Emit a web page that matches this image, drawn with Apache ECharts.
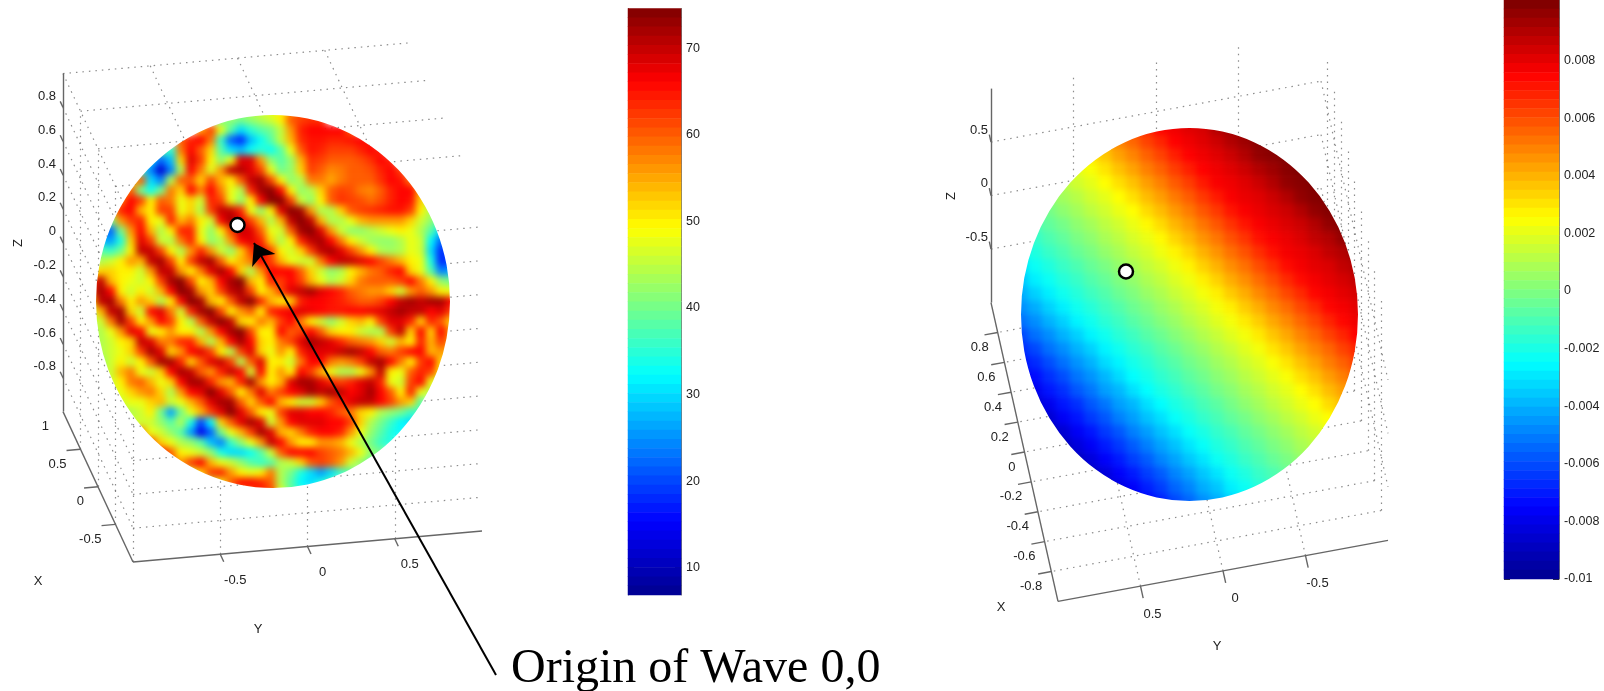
<!DOCTYPE html>
<html><head><meta charset="utf-8">
<style>html,body{margin:0;padding:0;background:#fff;overflow:hidden}#c{width:1604px;height:691px}</style>
<script src="https://cdn.jsdelivr.net/npm/echarts@6/dist/echarts.min.js"></script></head>
<body><div id="c"></div>
<script>
// Tick labels
const leftZTicks=[0.8,0.6,0.4,0.2,0,-0.2,-0.4,-0.6,-0.8];
const leftXTicks=[1,0.5,0,-0.5];
const leftYTicks=[-0.5,0,0.5];
const rightZTicks=[0.5,0,-0.5];
const rightXTicks=[0.8,0.6,0.4,0.2,0,-0.2,-0.4,-0.6,-0.8];
const rightYTicks=[0.5,0,-0.5];
const leftBarTicks=[10,20,30,40,50,60,70];
const rightBarTicks=[0.008,0.006,0.004,0.002,0,-0.002,-0.004,-0.006,-0.008,-0.01];
const leftRange=[6.85,74.57];
const rightRange=[-0.01,0.0101];
const annotationText='Origin of Wave 0,0';

// Left sphere: values, row by row; each row begins at column leftRowStart[j]
const leftRowStart=[15,13,11,9,7,6,5,4,3,3,2,2,1,1,1,1,0,0,0,0,0,0,0,0,1,1,1,2,2,3,3,4,5,6,7,8,10,12,15];
const leftRows=[
[42,44,46,48,50,56,60,62],
[40,42,40,42,44,46,50,60,62,63,63],
[55,62,48,38,30,35,38,40,45,56,64,66,66,66,66,60],
[60,64,66,58,36,22,18,28,33,38,45,54,63,65,65,64,64,65,66,64],
[40,35,58,66,60,52,38,30,28,33,35,33,38,48,60,65,64,62,62,62,64,66,64],
[30,22,28,52,68,62,50,42,48,68,68,56,42,38,42,54,63,62,60,60,60,61,63,66,64],
[35,24,12,24,44,66,58,47,56,70,71,68,62,48,40,42,52,62,60,57,58,60,60,61,64,66,62],
[52,60,30,24,44,60,60,52,62,54,50,60,70,72,62,50,42,44,58,58,55,58,60,60,60,63,66,65,58],
[52,60,40,33,40,58,52,66,58,66,58,48,44,64,72,74,66,50,42,44,52,60,62,61,58,57,60,64,66,66,54],
[58,66,62,50,60,58,48,52,46,64,62,48,42,50,66,74,74,62,46,42,50,60,63,62,61,59,61,64,66,65,52,44],
[52,64,66,54,50,62,62,48,52,44,62,70,70,64,48,42,50,68,74,72,56,44,44,52,60,62,63,64,65,65,62,50,44],
[40,56,62,64,50,48,64,54,58,50,46,66,72,68,62,54,44,54,70,74,70,54,44,44,48,54,56,56,56,56,52,46,42,36],
[24,22,40,56,66,54,44,50,64,64,48,42,50,62,70,68,60,48,46,60,72,74,68,56,46,42,42,44,46,48,50,48,44,38,30],
[28,26,34,52,68,62,46,44,58,64,50,42,44,56,66,68,64,52,44,50,64,70,72,66,58,50,46,43,42,42,44,48,46,32,22,24],
[38,36,40,50,70,70,62,50,44,56,64,56,46,42,52,62,68,62,50,46,52,62,70,72,68,62,56,50,44,43,44,48,46,30,18,22],
[44,46,50,56,54,70,72,62,50,62,70,72,60,50,54,58,66,62,54,48,46,46,58,66,70,70,68,66,62,58,54,50,48,34,18,20],
[50,52,52,50,50,46,56,70,70,56,50,58,68,72,66,52,44,56,66,66,66,60,52,46,42,44,50,54,58,60,64,66,52,48,38,24,26],
[62,70,54,50,48,46,50,62,72,74,62,50,54,66,72,74,54,50,64,62,66,62,54,48,44,46,52,58,60,60,60,62,66,58,50,42,40],
[62,72,66,50,46,50,46,54,66,74,72,56,52,62,70,72,62,50,54,62,68,70,72,68,66,64,60,58,56,56,52,46,56,60,56,50,48],
[50,70,72,58,50,56,52,44,50,66,74,72,54,50,60,70,74,64,54,50,52,64,66,66,65,64,62,60,60,62,66,70,72,70,72,72,66],
[46,54,70,72,52,46,66,68,58,46,64,72,74,62,50,56,60,50,64,66,67,68,67,66,65,65,66,66,67,68,70,72,70,70,66,68,62],
[44,46,58,72,62,50,56,66,62,50,44,60,70,74,70,52,50,58,54,62,66,58,50,46,42,46,52,54,50,62,68,68,64,52,64,60,52],
[44,44,48,56,68,66,48,50,56,50,50,44,56,66,72,74,62,50,50,66,60,62,66,60,52,50,50,46,44,44,62,70,52,66,52,66,56],
[44,44,46,50,52,70,68,58,58,64,64,54,44,54,66,72,66,52,50,58,62,68,72,70,68,64,60,58,56,52,46,54,50,64,54,62,56],
[44,46,48,52,62,72,68,52,56,66,68,62,50,44,62,68,52,48,56,50,64,68,68,68,70,72,70,66,60,58,62,66,66,54,56,54],
[42,46,50,46,50,60,72,72,64,52,60,68,70,62,44,60,68,50,50,46,58,66,66,58,56,58,62,70,72,66,58,50,62,66,52],
[44,46,54,58,48,46,52,66,72,70,60,56,64,70,66,46,66,50,56,50,66,62,54,48,44,44,48,56,70,50,48,60,64,62,50],
[46,50,58,60,54,48,52,66,72,72,64,56,54,64,72,56,50,54,68,72,72,68,64,62,64,68,70,64,48,46,62,66,48,44],
[46,48,52,56,58,52,44,56,66,68,74,68,60,50,58,68,58,62,66,68,72,70,72,70,66,68,72,66,60,50,64,48,44],
[46,48,48,52,54,46,48,54,60,68,72,72,60,52,60,66,54,50,46,46,52,60,64,68,70,70,66,62,56,52,38],
[44,44,46,50,40,26,40,48,54,62,68,74,68,60,50,48,62,68,68,66,66,64,60,58,52,50,44,42,40,36,36],
[46,46,46,42,38,44,34,20,32,52,60,68,72,68,46,56,66,68,68,68,66,66,62,52,44,40,36,32,30],
[58,48,46,42,38,26,14,22,40,48,54,62,72,68,54,52,58,64,66,66,64,56,48,42,38,34,32],
[62,52,48,44,42,38,28,24,36,42,48,56,70,66,56,50,50,56,56,54,48,44,40,36,34],
[66,60,50,48,46,42,34,30,30,33,38,46,60,66,66,66,62,60,58,54,48,42,40],
[60,56,62,66,54,48,46,42,38,36,38,44,46,52,60,62,60,56,46,42,38],
[46,52,62,64,56,50,48,50,58,44,40,34,30,26,30,36,38],
[44,48,60,66,66,64,60,44,38,32,30,34,38],
[54,58,64,62,48,40,36]
];

// Right sphere: values, in units of 0.0001
const rightRows=[
[14,19,23,29,36,42,49,55,62,68,75,78,81,83,90,94,98,100,100,100,100,100,100,100,100],
[10,15,19,24,29,36,42,49,55,62,68,75,78,81,85,90,94,98,100,100,100,100,100,100,100],
[6,10,15,19,24,30,36,43,49,56,62,69,75,78,81,85,90,96,98,100,100,100,100,100,100],
[2,6,11,15,20,24,30,37,43,50,56,63,69,75,78,81,85,90,94,98,100,100,100,100,100],
[-2,2,7,11,16,20,25,31,37,44,50,57,63,70,76,78,81,85,90,96,98,100,100,100,100],
[-7,-2,2,7,11,16,20,25,31,38,44,51,57,64,70,76,79,81,85,90,96,99,100,100,100],
[-11,-6,-2,3,7,12,16,21,25,32,38,45,51,58,64,71,76,79,82,85,90,96,99,100,100],
[-15,-11,-6,-2,3,7,12,16,21,26,32,39,45,52,58,65,71,76,79,82,85,90,96,99,100],
[-19,-15,-10,-6,-1,3,8,12,17,21,26,33,39,46,52,59,65,72,76,79,82,87,90,96,99],
[-23,-19,-14,-10,-5,-1,4,8,13,17,22,27,33,40,46,53,59,66,72,77,79,82,87,90,97],
[-30,-23,-19,-14,-10,-5,-1,4,8,13,17,22,27,34,40,47,53,60,66,73,77,80,82,87,90],
[-36,-28,-23,-18,-14,-9,-5,0,4,9,13,18,22,28,34,41,47,54,60,67,73,77,80,83,87],
[-41,-34,-28,-22,-18,-13,-9,-4,0,5,9,14,18,23,28,35,41,48,54,61,67,74,77,80,83],
[-47,-41,-34,-28,-22,-18,-13,-9,-4,0,5,9,14,18,23,28,35,41,48,54,61,67,74,77,80],
[-53,-47,-40,-34,-27,-22,-17,-13,-8,-4,1,5,10,14,19,23,29,35,42,48,55,61,68,74,78],
[-61,-53,-47,-40,-34,-27,-22,-17,-13,-8,-4,1,5,10,14,19,23,29,36,42,49,55,62,68,75],
[-67,-61,-53,-47,-40,-34,-27,-22,-17,-13,-8,-4,1,5,10,14,19,23,30,36,43,49,55,62,68],
[-73,-67,-60,-53,-46,-40,-32,-27,-21,-17,-12,-8,-3,1,6,10,15,19,24,30,37,43,50,56,63],
[-79,-73,-66,-60,-52,-46,-39,-32,-25,-21,-16,-12,-7,-3,2,6,11,15,20,24,31,37,44,50,57],
[-85,-79,-71,-66,-58,-52,-44,-39,-31,-25,-20,-16,-11,-7,-2,2,7,11,16,20,25,31,38,44,51],
[-92,-85,-79,-71,-66,-58,-52,-44,-39,-31,-25,-20,-16,-11,-7,-2,3,7,12,16,21,25,32,38,45],
[-98,-91,-85,-77,-71,-64,-58,-50,-44,-37,-31,-24,-20,-15,-11,-6,-2,3,7,12,16,21,25,32,38],
[-100,-98,-91,-85,-77,-71,-64,-58,-50,-44,-37,-31,-24,-20,-15,-11,-6,-2,3,7,12,16,21,25,32],
[-100,-100,-97,-91,-83,-77,-70,-64,-57,-50,-43,-37,-30,-24,-19,-15,-10,-6,-1,3,8,12,17,21,26],
[-100,-100,-100,-97,-89,-83,-76,-70,-63,-57,-49,-43,-36,-30,-23,-19,-14,-10,-5,-1,4,8,13,17,22],
[-100,-100,-100,-100,-97,-89,-83,-76,-70,-63,-57,-49,-43,-36,-30,-23,-19,-14,-10,-5,-1,4,8,13,17],
[-100,-100,-100,-100,-100,-95,-89,-82,-76,-69,-63,-55,-49,-41,-36,-28,-23,-18,-14,-9,-5,0,4,9,13],
[-100,-100,-100,-100,-100,-100,-95,-88,-82,-75,-69,-61,-55,-47,-41,-34,-28,-22,-18,-13,-9,-4,0,5,9]
];

const jet=['#00008f','#0000ff','#007fff','#00ffff','#7fff7f','#ffff00','#ff7f00','#ff0000','#7f0000'];
const leftView={o:[272.5,302.3],ex:[-35,-75.2],ey:[174.5,-15.5],ez:-169};
const rightView={o:[1189.5,314.5],ex:[-33.5,-149.4],ey:[-165,30.5],ez:-107};
const P=(v,x,y,z)=>[v.o[0]+v.ex[0]*x+v.ey[0]*y, v.o[1]+v.ex[1]*x+v.ey[1]*y+v.ez*z];
const seg=(v,a,b)=>({coords:[P(v,a[0],a[1],a[2]),P(v,b[0],b[1],b[2])]});

const dotted=[],solid=[];
// Left box: walls z=+1, x=-1, y=-1
[1,0.5,0,-0.5].forEach(x=>dotted.push(seg(leftView,[x,-1,1],[x,1,1])));
[-1,-0.5,0,0.5].forEach(y=>dotted.push(seg(leftView,[1,y,1],[-1,y,1])));
leftZTicks.forEach(z=>{dotted.push(seg(leftView,[-1,-1,z],[-1,1,z]));dotted.push(seg(leftView,[1,-1,z],[-1,-1,z]));});
[-0.5,0,0.5].forEach(y=>dotted.push(seg(leftView,[-1,y,-1],[-1,y,0.8])));
[0.5,0,-0.5,-1].forEach(x=>dotted.push(seg(leftView,[x,-1,-1],[x,-1,1])));
// Right box: walls z=-1, x=+1, y=-1
rightXTicks.forEach(x=>{dotted.push(seg(rightView,[x,-1,-1],[x,1,-1]));dotted.push(seg(rightView,[x,-1,-1],[x,-1,0.97]));});
rightYTicks.forEach(y=>{dotted.push(seg(rightView,[-1,y,-1],[1,y,-1]));dotted.push(seg(rightView,[1,y,-1],[1,y,0.97]));});
rightZTicks.forEach(z=>{dotted.push(seg(rightView,[1,1,z],[1,-1,z]));dotted.push(seg(rightView,[1,-1,z],[-1,-1,z]));});
// Solid axes and their ticks
solid.push(seg(leftView,[1,-1,-1],[1,-1,1]),seg(leftView,[1,-1,-1],[-1,-1,-1]),seg(leftView,[-1,-1,-1],[-1,1,-1]));
solid.push(seg(rightView,[1,1,-1],[1,1,1]),seg(rightView,[1,1,-1],[-1,1,-1]),seg(rightView,[-1,1,-1],[-1,-1,-1]));
leftZTicks.forEach(z=>solid.push(seg(leftView,[1,-1,z],[1.08,-1,z])));
leftXTicks.slice(1).forEach(x=>solid.push(seg(leftView,[x,-1,-1],[x,-1.08,-1])));
leftYTicks.forEach(y=>solid.push(seg(leftView,[-1,y,-1],[-1.1,y,-1])));
rightZTicks.forEach(z=>solid.push(seg(rightView,[1,1,z],[1.05,1,z])));
rightXTicks.forEach(x=>solid.push(seg(rightView,[x,1,-1],[x,1.08,-1])));
rightYTicks.forEach(y=>solid.push(seg(rightView,[-1,y,-1],[-1.08,y,-1])));

// Text helpers
const pt=(xy,dx,dy,name)=>({value:[xy[0]+dx,xy[1]+dy],name:String(name)});
const textSeries=(items,align,size,o)=>{o=o||{};return {type:'scatter',xAxisIndex:0,yAxisIndex:0,symbolSize:0,silent:true,animation:false,data:items,zlevel:o.zlevel||0,itemStyle:{opacity:1},
  label:{show:true,position:'inside',align:align,verticalAlign:'middle',formatter:'{b}',opacity:1,color:o.color||'#222',fontFamily:o.font||'Liberation Sans',fontSize:size,rotate:o.rotate||0}};};

const rightAligned=[
 ...leftZTicks.map(z=>pt(P(leftView,1,-1,z),-7,-11,z)),
 ...leftXTicks.map(x=>pt(P(leftView,x,-1,-1),-14,15,x)),
 ...rightZTicks.map(z=>pt(P(rightView,1,1,z),-3,-12,z)),
 ...rightXTicks.map(x=>pt(P(rightView,x,1,-1),-9,15,x))
];
const centered=[
 ...leftYTicks.map(y=>pt(P(leftView,-1,y,-1),15,26,y)),
 ...rightYTicks.map(y=>pt(P(rightView,-1,y,-1),12,28,y)),
 {value:[38,581],name:'X'},{value:[258,629],name:'Y'},{value:[1001,607],name:'X'},{value:[1217,646],name:'Y'}
];
const zTitles=[{value:[18,243],name:'Z'},{value:[951,196],name:'Z'}];
const croppedTopLabel=[{value:[1564,-3],name:'0.01'}];

// Heatmap cells
const leftCells=[];leftRows.forEach((r,j)=>r.forEach((v,k)=>leftCells.push([leftRowStart[j]+k,j,v])));
const rightCells=[];rightRows.forEach((r,j)=>r.forEach((v,i)=>rightCells.push([i,j,v*1e-4])));
const levels=64;
const barCells=(lo,hi)=>Array.from({length:levels},(_,k)=>[0,k,hi-(hi-lo)*(k+0.5)/levels]);
const idx=n=>Array.from({length:n},(_,i)=>i);

const hidden={show:false};
const catX=(g,n)=>({type:'category',gridIndex:g,data:idx(n),...hidden});
const catY=(g,n)=>({type:'category',gridIndex:g,data:idx(n),inverse:true,...hidden});
const barAxis=(g,lo,hi,pos,ticks,labels,fmt)=>({type:'value',gridIndex:g,min:lo,max:hi,position:pos,
  splitLine:{show:false},axisLine:{show:true,onZero:false,lineStyle:{color:'#777',width:1}},
  axisTick:{show:true,inside:true,length:6,lineStyle:{color:'#333',width:1},customValues:ticks},
  axisLabel:{show:labels,customValues:ticks,margin:5,color:'#222',fontFamily:'Liberation Sans',fontSize:12.5,formatter:fmt||(v=>String(v))}});
const fmt3=v=>String(+(+v).toFixed(3));
const heat=(name,x,y,data,z)=>({type:'heatmap',name,xAxisIndex:x,yAxisIndex:y,data,zlevel:z,silent:true,progressive:0,animation:false,emphasis:{disabled:true},itemStyle:{borderWidth:0}});

const option={
 animation:false,
 tooltip:{show:false},
 grid:[
  {left:0,top:0,width:1604,height:691,outerBoundsMode:'none'},
  {left:86,top:105,width:370,height:393,outerBoundsMode:'none'},
  {left:1014,top:121,width:350,height:387,outerBoundsMode:'none'},
  {left:628,top:8.5,width:53,height:586.5,outerBoundsMode:'none'},
  {left:1504,top:0,width:55,height:579,outerBoundsMode:'none'}
 ],
 xAxis:[
  {type:'value',gridIndex:0,min:0,max:1604,...hidden},
  catX(1,37),catX(2,25),catX(3,1),catX(4,1)
 ],
 yAxis:[
  {type:'value',gridIndex:0,min:0,max:691,inverse:true,...hidden},
  catY(1,39),catY(2,28),catY(3,levels),catY(4,levels),
  barAxis(3,leftRange[0],leftRange[1],'right',leftBarTicks,true),
  barAxis(3,leftRange[0],leftRange[1],'left',leftBarTicks,false),
  barAxis(4,rightRange[0],rightRange[1],'right',rightBarTicks,true,fmt3),
  barAxis(4,rightRange[0],rightRange[1],'left',rightBarTicks,false,fmt3)
 ],
 visualMap:[
  {show:false,type:'continuous',seriesIndex:[0,2],dimension:2,min:leftRange[0],max:leftRange[1],inRange:{color:jet}},
  {show:false,type:'continuous',seriesIndex:[1,3],dimension:2,min:-0.01,max:0.01,inRange:{color:jet}}
 ],
 series:[
  heat('left sphere',1,1,leftCells,1),
  heat('right sphere',2,2,rightCells,1),
  heat('left bar',3,3,barCells(leftRange[0],leftRange[1]),0),
  heat('right bar',4,4,barCells(rightRange[0],rightRange[1]),0),
  {type:'lines',coordinateSystem:'cartesian2d',xAxisIndex:0,yAxisIndex:0,silent:true,animation:false,data:dotted,lineStyle:{color:'#6f6f6f',width:1.2,type:[1.5,5],opacity:0.8}},
  {type:'lines',coordinateSystem:'cartesian2d',xAxisIndex:0,yAxisIndex:0,silent:true,animation:false,data:solid,lineStyle:{color:'#666',width:1.4,opacity:1}},
  textSeries(rightAligned,'right',13),
  textSeries(centered,'center',13),
  textSeries(zTitles,'center',13,{rotate:90}),
  textSeries(croppedTopLabel,'left',12.5),
  {type:'lines',coordinateSystem:'cartesian2d',xAxisIndex:0,yAxisIndex:0,zlevel:2,silent:true,animation:false,
   symbol:['none','arrow'],symbolSize:20,data:[{coords:[[496,675],[254,243]]}],lineStyle:{color:'#000',width:2,opacity:1}},
  {type:'scatter',xAxisIndex:0,yAxisIndex:0,zlevel:2,silent:true,animation:false,symbol:'circle',symbolSize:14,
   itemStyle:{color:'#fff',borderColor:'#000',borderWidth:2.5,opacity:1},data:[[237.5,225],[1126,271.5]]},
  textSeries([{value:[511,669],name:annotationText}],'left',48,{zlevel:2,color:'#000',font:'Liberation Serif'})
 ]
};

const chart=echarts.init(document.getElementById('c'),null,{renderer:'canvas',width:1604,height:691});
chart.setOption(option);
function styleLayers(){
  const dom=chart.getDom();
  const c1=dom.querySelector('canvas[data-zr-dom-id="zr_1"]');
  if(c1){
    c1.style.filter='blur(3.6px)';
    c1.style.clipPath="path('M96,301.5 a177,186.5 0 1,0 354,0 a177,186.5 0 1,0 -354,0 Z M1021,314.5 a168.5,186.5 0 1,0 337,0 a168.5,186.5 0 1,0 -337,0 Z')";
  }
  const c0=dom.querySelector('canvas[data-zr-dom-id="zr_0"]');
  if(c0){c0.style.filter='blur(0.45px)';}
}
styleLayers();
chart.on('finished',styleLayers);
requestAnimationFrame(styleLayers);
</script></body></html>
